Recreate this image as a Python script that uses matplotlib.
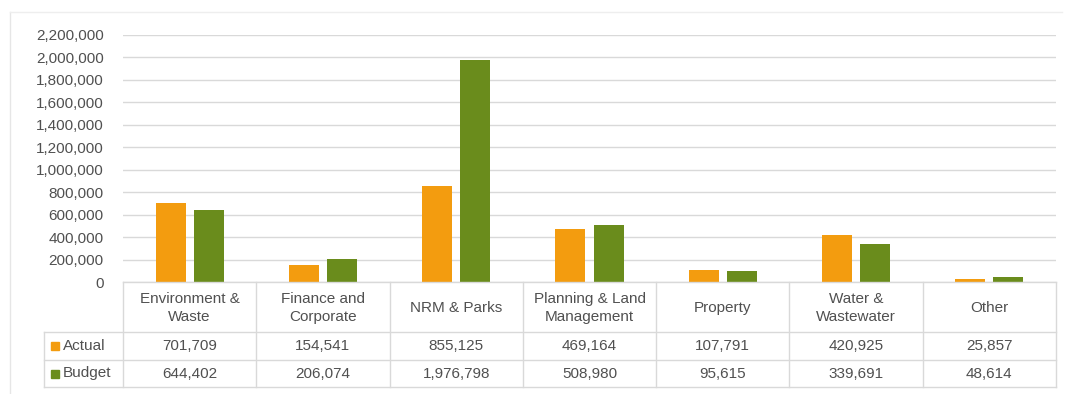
import matplotlib.pyplot as plt
from matplotlib.patches import Rectangle
import numpy as np

plt.rcParams['font.family'] = ['Liberation Sans', 'DejaVu Sans']

categories = ["Environment &\nWaste", "Finance and\nCorporate", "NRM & Parks",
              "Planning & Land\nManagement", "Property", "Water &\nWastewater", "Other"]
actual = [701709, 154541, 855125, 469164, 107791, 420925, 25857]
budget = [644402, 206074, 1976798, 508980, 95615, 339691, 48614]
series_names = ["Actual", "Budget"]
yticks = list(range(0, 2200001, 200000))

c_actual = "#F39C0F"
c_budget = "#6A8C1C"
txt = "#505050"
grid = "#D9D9D9"
fs = 11

W, H = 1068, 394
fig = plt.figure(figsize=(W / 100, H / 100), dpi=100)

# pixel helpers for the figure layout
def fx(px):
    return px / W

def fy(py):
    return 1 - py / H

left, right, top, bottom = 123, 1056, 35, 282
ax = fig.add_axes([fx(left), fy(bottom), fx(right) - fx(left), fy(top) - fy(bottom)])

x = np.arange(len(categories))
bw = 0.225
ax.bar(x - 0.143, actual, bw, color=c_actual, zorder=3)
ax.bar(x + 0.143, budget, bw, color=c_budget, zorder=3)

ax.set_xlim(-0.5, len(categories) - 0.5)
ax.set_ylim(0, 2200000)
ax.set_yticks(yticks)
ax.set_yticklabels([f"{v:,}" for v in yticks], fontsize=fs, color=txt)
ax.tick_params(axis="y", length=0, pad=14)
ax.set_xticks([])
ax.yaxis.grid(True, color=grid, linewidth=1)
ax.set_axisbelow(True)
for s in ax.spines.values():
    s.set_visible(False)

# overlay in pixel space for the data table and outer frame
ov = fig.add_axes([0, 0, 1, 1], zorder=5)
ov.set_xlim(0, W)
ov.set_ylim(H, 0)
ov.axis("off")
ov.patch.set_alpha(0)

# frame
ov.plot([10, 10], [12, 393], color="#E6E6E6", lw=1)
ov.plot([10, 1062], [12, 12], color="#EEEEEE", lw=1)

col_edges = np.linspace(left, right, len(categories) + 1)
row_edges = [282, 332, 360, 387]
key_left = 44

for y in row_edges:
    x0 = left if y == row_edges[0] else key_left
    ov.plot([x0, right], [y, y], color=grid, lw=1)
for xe in col_edges:
    ov.plot([xe, xe], [row_edges[0], row_edges[-1]], color=grid, lw=1)
ov.plot([key_left, key_left], [row_edges[1], row_edges[-1]], color=grid, lw=1)

centers = (col_edges[:-1] + col_edges[1:]) / 2
for i, cat in enumerate(categories):
    ov.text(centers[i], (row_edges[0] + row_edges[1]) / 2 + 1, cat, ha="center", va="center",
            fontsize=fs, color=txt, linespacing=1.3)
    ov.text(centers[i], (row_edges[1] + row_edges[2]) / 2, f"{actual[i]:,}", ha="center",
            va="center", fontsize=fs, color=txt)
    ov.text(centers[i], (row_edges[2] + row_edges[3]) / 2, f"{budget[i]:,}", ha="center",
            va="center", fontsize=fs, color=txt)

for r, (name, col) in enumerate(zip(series_names, [c_actual, c_budget])):
    yc = (row_edges[r + 1] + row_edges[r + 2]) / 2
    ov.add_patch(Rectangle((51, yc - 4), 8, 8, color=col))
    ov.text(63, yc, name, ha="left", va="center", fontsize=fs, color=txt)

fig.savefig("out.png", dpi=100)
